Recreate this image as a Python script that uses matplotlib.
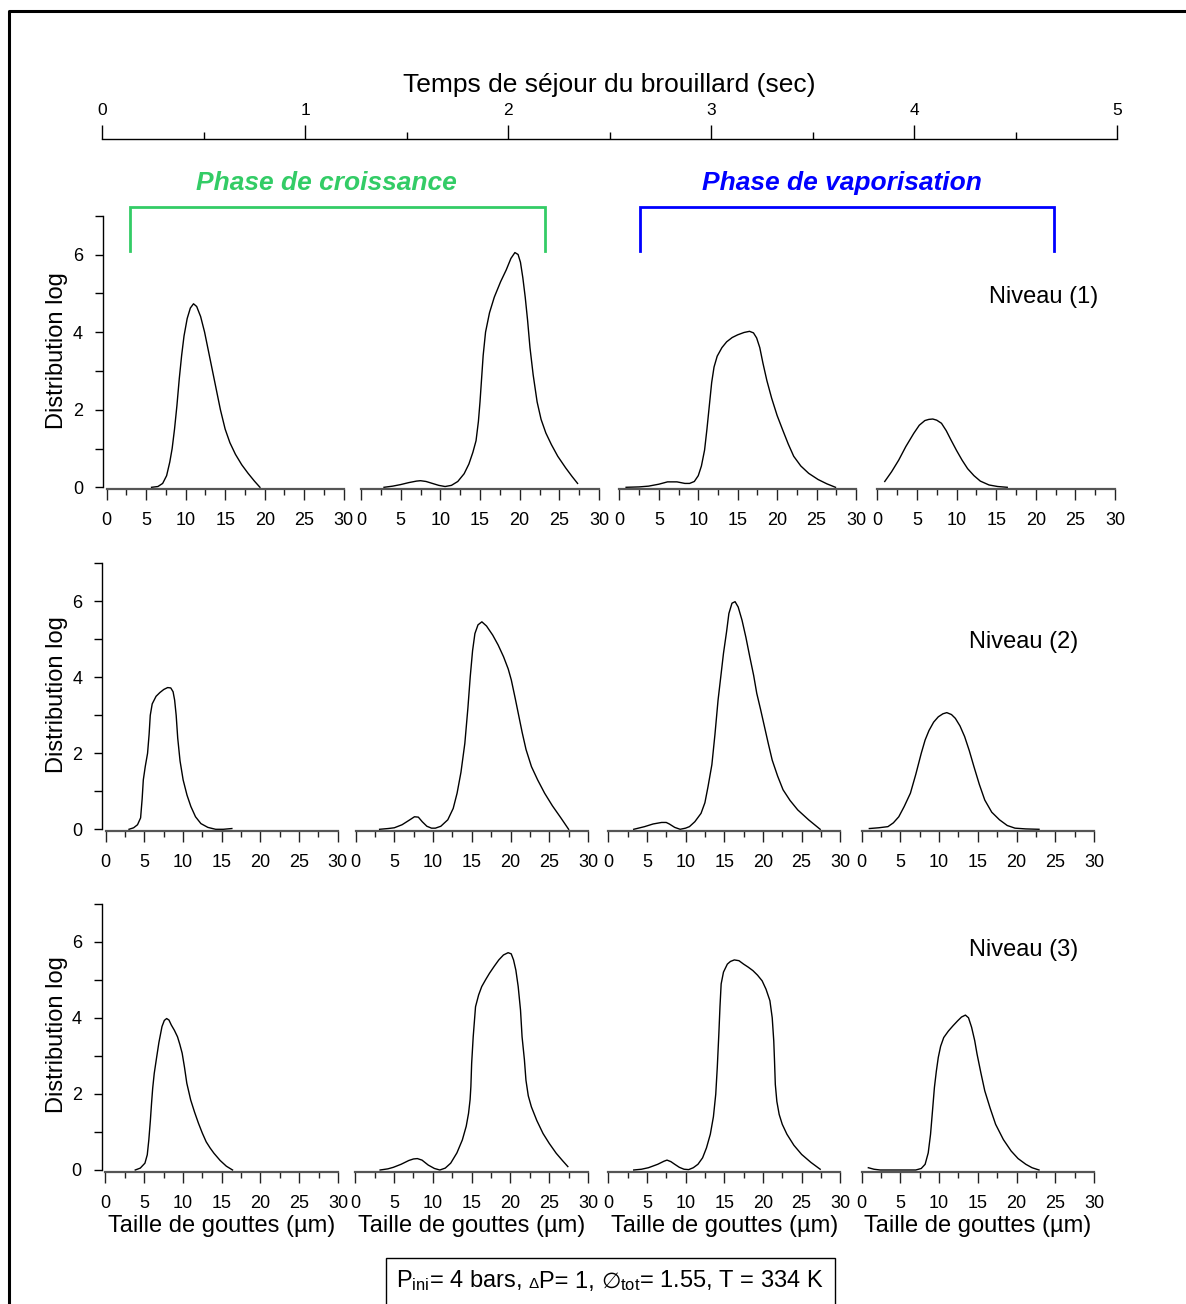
import matplotlib
matplotlib.use('Agg')
import matplotlib.pyplot as plt
from matplotlib.lines import Line2D
from matplotlib.patches import Rectangle
import matplotlib.transforms as mtransforms
from matplotlib.ticker import MultipleLocator, FixedLocator
from matplotlib.offsetbox import TextArea, HPacker, AnchoredOffsetbox, DrawingArea

plt.rcParams['font.family'] = ['Liberation Sans', 'DejaVu Sans']
plt.rcParams['mathtext.fontset'] = 'custom'
plt.rcParams['mathtext.rm'] = 'Liberation Sans'
plt.rcParams['mathtext.it'] = 'Liberation Sans:italic'
plt.rcParams['mathtext.bf'] = 'Liberation Sans:bold'

# ---------------- data ----------------
time_ticks = [0, 1, 2, 3, 4, 5]
size_ticks = [0, 5, 10, 15, 20, 25, 30]
dist_ticks = [0, 2, 4, 6]
phase_names = ["Phase de croissance", "Phase de vaporisation"]
phase_colors = ["#33cc66", "#0000ff"]
phase_t0 = [0.14, 2.65]
phase_t1 = [2.18, 4.69]
level_names = ["Niveau (1)", "Niveau (2)", "Niveau (3)"]

# Niveau 1
n1_t1_x = [5.7, 6.5, 7.1, 7.6, 8.0, 8.3, 8.6, 8.9, 9.2, 9.5, 9.8, 10.2, 10.6, 11.0, 11.4, 11.9, 12.4, 12.9, 13.4, 13.9, 14.4, 15.0, 15.6, 16.3, 17.1, 17.9, 18.7, 19.4]
n1_t1_y = [0.0, 0.02, 0.1, 0.3, 0.65, 1.0, 1.5, 2.1, 2.8, 3.4, 3.9, 4.35, 4.62, 4.73, 4.66, 4.4, 4.0, 3.5, 3.0, 2.5, 2.0, 1.5, 1.15, 0.85, 0.58, 0.36, 0.16, 0.0]
n1_t2_x = [2.9, 4.0, 5.0, 6.0, 7.0, 7.5, 8.2, 9.0, 9.8, 10.6, 11.4, 12.2, 13.0, 13.6, 14.1, 14.5, 14.8, 15.0, 15.2, 15.4, 15.7, 16.2, 16.8, 17.6, 18.3, 18.9, 19.4, 19.8, 20.1, 20.4, 20.7, 21.0, 21.3, 21.7, 22.2, 22.7, 23.3, 24.0, 24.8, 25.8, 26.6, 27.3]
n1_t2_y = [0.0, 0.03, 0.07, 0.12, 0.16, 0.17, 0.15, 0.1, 0.05, 0.02, 0.05, 0.15, 0.35, 0.6, 0.9, 1.2, 1.7, 2.2, 2.8, 3.4, 4.0, 4.5, 4.9, 5.3, 5.6, 5.9, 6.05, 6.0, 5.8, 5.4, 4.9, 4.3, 3.6, 2.9, 2.2, 1.75, 1.4, 1.1, 0.8, 0.5, 0.28, 0.1]
n1_t3_x = [0.85, 2.5, 3.7, 5.0, 6.1, 7.3, 8.3, 8.9, 9.5, 10.0, 10.4, 10.8, 11.1, 11.4, 11.7, 12.0, 12.4, 13.0, 13.6, 14.3, 15.0, 15.8, 16.5, 17.0, 17.4, 17.8, 18.2, 18.7, 19.3, 20.0, 20.7, 21.4, 22.1, 23.0, 24.0, 25.2, 26.3, 27.4]
n1_t3_y = [0.0, 0.01, 0.03, 0.08, 0.14, 0.14, 0.1, 0.1, 0.15, 0.3, 0.55, 0.96, 1.5, 2.1, 2.7, 3.1, 3.38, 3.6, 3.75, 3.86, 3.93, 3.99, 4.02, 3.98, 3.85, 3.6, 3.2, 2.75, 2.3, 1.85, 1.48, 1.12, 0.8, 0.55, 0.36, 0.2, 0.09, 0.0]
n1_t4_x = [0.94, 1.8, 2.7, 3.6, 4.6, 5.3, 6.0, 6.5, 7.0, 7.5, 8.1, 8.7, 9.3, 10.0, 10.7, 11.4, 12.2, 13.0, 14.1, 15.2, 16.4]
n1_t4_y = [0.15, 0.4, 0.7, 1.05, 1.39, 1.6, 1.72, 1.75, 1.76, 1.73, 1.65, 1.46, 1.22, 0.95, 0.7, 0.48, 0.3, 0.16, 0.06, 0.02, 0.0]

# Niveau 2
n2_t1_x = [3.0, 3.6, 4.1, 4.5, 4.7, 4.85, 5.1, 5.4, 5.6, 5.75, 6.0, 6.5, 7.0, 7.5, 8.0, 8.4, 8.7, 8.9, 9.1, 9.3, 9.6, 10.0, 10.5, 11.0, 11.6, 12.3, 13.2, 14.2, 15.2, 16.3]
n2_t1_y = [0.0, 0.04, 0.12, 0.3, 0.8, 1.3, 1.65, 2.0, 2.5, 3.0, 3.3, 3.5, 3.6, 3.68, 3.73, 3.72, 3.62, 3.4, 3.0, 2.4, 1.8, 1.3, 0.9, 0.6, 0.33, 0.15, 0.05, 0.0, 0.0, 0.02]
n2_t2_x = [3.1, 4.2, 5.0, 6.0, 7.0, 7.6, 8.1, 8.6, 9.2, 9.8, 10.3, 11.0, 11.9, 12.6, 13.1, 13.6, 14.1, 14.5, 14.8, 15.1, 15.4, 15.8, 16.3, 16.9, 17.7, 18.4, 19.1, 19.7, 20.1, 20.6, 21.1, 21.5, 22.0, 22.7, 23.5, 24.4, 25.4, 26.5, 27.5]
n2_t2_y = [0.0, 0.02, 0.04, 0.12, 0.25, 0.33, 0.32, 0.2, 0.08, 0.03, 0.03, 0.08, 0.25, 0.55, 0.95, 1.5, 2.26, 3.2, 4.02, 4.7, 5.15, 5.38, 5.46, 5.35, 5.11, 4.85, 4.54, 4.22, 3.93, 3.45, 2.95, 2.55, 2.1, 1.65, 1.3, 0.95, 0.62, 0.3, 0.0]
n2_t3_x = [3.3, 4.7, 5.8, 6.9, 7.5, 7.9, 8.6, 9.3, 10.0, 10.5, 11.2, 12.0, 12.5, 12.9, 13.4, 13.8, 14.2, 14.6, 14.9, 15.3, 15.6, 16.0, 16.4, 16.8, 17.3, 17.8, 18.3, 18.8, 19.2, 19.7, 20.2, 20.7, 21.2, 21.9, 22.6, 23.5, 24.5, 25.9, 27.4]
n2_t3_y = [0.0, 0.07, 0.14, 0.18, 0.18, 0.14, 0.05, 0.0, 0.03, 0.07, 0.2, 0.42, 0.7, 1.12, 1.7, 2.5, 3.4, 4.1, 4.63, 5.2, 5.68, 5.95, 5.99, 5.85, 5.5, 5.05, 4.54, 4.05, 3.58, 3.15, 2.7, 2.25, 1.82, 1.4, 1.04, 0.76, 0.51, 0.25, 0.0]
n2_t4_x = [1.0, 2.2, 3.4, 4.1, 4.8, 5.5, 6.3, 7.0, 7.7, 8.2, 8.7, 9.3, 9.9, 10.5, 11.0, 11.6, 12.1, 12.7, 13.3, 13.9, 14.5, 15.2, 15.9, 16.8, 17.8, 18.8, 19.8, 21.2, 22.9]
n2_t4_y = [0.02, 0.04, 0.07, 0.17, 0.33, 0.6, 0.95, 1.45, 2.0, 2.35, 2.6, 2.82, 2.96, 3.04, 3.07, 3.02, 2.92, 2.72, 2.44, 2.07, 1.65, 1.18, 0.77, 0.45, 0.25, 0.1, 0.03, 0.01, 0.0]

# Niveau 3
n3_t1_x = [3.85, 4.5, 5.1, 5.4, 5.6, 5.8, 5.95, 6.1, 6.3, 6.6, 6.9, 7.3, 7.6, 7.9, 8.2, 8.5, 8.9, 9.3, 9.6, 9.9, 10.2, 10.5, 11.0, 11.5, 12.0, 12.5, 13.0, 13.5, 14.0, 14.8, 15.6, 16.4]
n3_t1_y = [0.0, 0.05, 0.18, 0.4, 0.79, 1.3, 1.75, 2.15, 2.54, 2.95, 3.35, 3.77, 3.93, 3.98, 3.94, 3.81, 3.67, 3.5, 3.3, 3.07, 2.7, 2.28, 1.84, 1.52, 1.23, 0.97, 0.74, 0.58, 0.44, 0.25, 0.1, 0.0]
n3_t2_x = [3.2, 4.2, 4.9, 5.9, 6.9, 7.5, 8.0, 8.6, 9.4, 10.2, 10.9, 11.6, 12.3, 13.1, 13.8, 14.3, 14.6, 14.8, 14.9, 15.0, 15.2, 15.5, 15.9, 16.3, 16.8, 17.3, 17.9, 18.5, 19.1, 19.7, 20.1, 20.4, 20.7, 21.0, 21.3, 21.5, 21.8, 22.0, 22.3, 22.7, 23.4, 24.2, 25.0, 25.9, 26.7, 27.4]
n3_t2_y = [0.0, 0.03, 0.07, 0.15, 0.25, 0.29, 0.3, 0.26, 0.13, 0.04, 0.0, 0.05, 0.18, 0.45, 0.79, 1.15, 1.49, 1.85, 2.19, 2.8, 3.5, 4.29, 4.6, 4.82, 5.0, 5.17, 5.35, 5.52, 5.65, 5.71, 5.68, 5.52, 5.25, 4.82, 4.2, 3.5, 2.9, 2.36, 1.95, 1.66, 1.3, 0.96, 0.7, 0.44, 0.25, 0.09]
n3_t3_x = [3.3, 4.3, 5.2, 6.4, 7.2, 7.6, 8.1, 8.6, 9.2, 9.8, 10.4, 11.0, 11.6, 12.2, 12.7, 13.2, 13.6, 13.9, 14.1, 14.3, 14.45, 14.6, 14.9, 15.4, 15.8, 16.3, 16.9, 17.5, 18.1, 18.7, 19.3, 19.9, 20.4, 20.9, 21.2, 21.4, 21.5, 21.6, 21.8, 22.1, 22.5, 23.1, 24.0, 25.0, 26.2, 27.4]
n3_t3_y = [0.0, 0.02, 0.06, 0.15, 0.23, 0.26, 0.22, 0.15, 0.07, 0.02, 0.01, 0.06, 0.15, 0.32, 0.58, 0.94, 1.4, 1.99, 2.7, 3.57, 4.3, 4.89, 5.2, 5.41, 5.48, 5.52, 5.5, 5.41, 5.33, 5.24, 5.12, 4.97, 4.75, 4.45, 4.0, 3.39, 2.85, 2.25, 1.8, 1.46, 1.2, 0.94, 0.65, 0.41, 0.2, 0.02]
n3_t4_x = [0.87, 1.6, 2.4, 4.0, 5.5, 7.0, 7.7, 8.2, 8.6, 8.9, 9.15, 9.4, 9.65, 9.9, 10.2, 10.6, 11.2, 11.8, 12.4, 12.9, 13.4, 13.8, 14.2, 14.6, 14.9, 15.4, 15.9, 16.6, 17.3, 18.3, 19.3, 20.2, 21.2, 22.0, 22.9]
n3_t4_y = [0.06, 0.02, 0.0, 0.0, 0.0, 0.0, 0.04, 0.15, 0.45, 0.94, 1.55, 2.17, 2.6, 2.96, 3.25, 3.48, 3.65, 3.79, 3.92, 4.02, 4.07, 4.0, 3.75, 3.4, 3.05, 2.55, 2.08, 1.62, 1.2, 0.8, 0.5, 0.3, 0.15, 0.06, 0.0]

curves = [
    [(n1_t1_x, n1_t1_y), (n1_t2_x, n1_t2_y), (n1_t3_x, n1_t3_y), (n1_t4_x, n1_t4_y)],
    [(n2_t1_x, n2_t1_y), (n2_t2_x, n2_t2_y), (n2_t3_x, n2_t3_y), (n2_t4_x, n2_t4_y)],
    [(n3_t1_x, n3_t1_y), (n3_t2_x, n3_t2_y), (n3_t3_x, n3_t3_y), (n3_t4_x, n3_t4_y)],
]

# ---------------- layout ----------------
W, H = 1186, 1304
fig = plt.figure(figsize=(W / 100, H / 100), dpi=100)


def fx(px):
    return px / W


def fy(py):
    return 1 - py / H


rows_px = [(215.7, 487.3), (563.3, 829.3), (903.6, 1170.0)]
cols_px = [[(106.5, 343.8), (361, 599), (619.4, 856), (877.3, 1115)],
           [(105.8, 337.8), (355.6, 588), (608.2, 840.3), (861.6, 1094)],
           [(105.4, 338), (355.3, 588), (608.2, 840.3), (861.6, 1094)]]
ylabel_y = [351, 695, 1035]
level_pos = [(1044, 297), (1024, 642), (1024, 950)]

for r in range(3):
    ytop, ybot = rows_px[r]
    for c in range(4):
        x0, x1 = cols_px[r][c]
        ax = fig.add_axes([fx(x0), fy(ybot), (x1 - x0) / W, (ybot - ytop) / H])
        ax.patch.set_visible(False)
        xs, ys = curves[r][c]
        ax.plot(xs, ys, color='black', lw=1.0, solid_joinstyle='round', clip_on=False)
        ax.set_xlim(0, 30)
        ax.set_ylim(0, 7)
        ax.spines['top'].set_visible(False)
        ax.spines['right'].set_visible(False)
        ax.spines['bottom'].set_position(('outward', 1.5))
        ax.spines['bottom'].set_color('#555555')
        ax.spines['bottom'].set_linewidth(1.6)
        ax.set_xticks(size_ticks)
        ax.xaxis.set_minor_locator(MultipleLocator(2.5))
        ax.tick_params(axis='x', which='major', length=8, width=1.0, direction='out',
                       pad=8.5, labelsize=13, color='#222222')
        ax.tick_params(axis='x', which='minor', length=4.3, width=1.0, direction='out',
                       color='#222222')
        if c == 0:
            ax.spines['left'].set_position(('outward', 2.5))
            ax.spines['left'].set_linewidth(1.0)
            ax.set_yticks(dist_ticks)
            ax.yaxis.set_minor_locator(FixedLocator([1, 3, 5, 7]))
            ax.tick_params(axis='y', which='both', length=5.5, width=1.0,
                           direction='out', pad=9, labelsize=13)
        else:
            ax.spines['left'].set_visible(False)
            ax.tick_params(axis='y', which='both', left=False, labelleft=False)
        if r == 2:
            fig.text(fx((x0 + x1) / 2), fy(1226), "Taille de gouttes (µm)",
                     ha='center', va='center', fontsize=17)
    fig.text(fx(57), fy(ylabel_y[r]), "Distribution log", rotation=90,
             ha='center', va='center', fontsize=17)
    fig.text(fx(level_pos[r][0]), fy(level_pos[r][1]), level_names[r],
             ha='center', va='center', fontsize=17)

# top time axis
ax_top = fig.add_axes([fx(102), fy(141), (1117 - 102) / W, 2 / H])
ax_top.patch.set_visible(False)
for s in ['bottom', 'left', 'right']:
    ax_top.spines[s].set_visible(False)
ax_top.spines['top'].set_linewidth(1.0)
ax_top.set_xlim(0, 5)
ax_top.xaxis.tick_top()
ax_top.set_xticks(time_ticks)
ax_top.xaxis.set_minor_locator(MultipleLocator(0.5))
ax_top.tick_params(axis='x', which='major', length=10, width=1.0, direction='out',
                   pad=5, labelsize=12.5)
ax_top.tick_params(axis='x', which='minor', length=5, width=1.0, direction='out')
ax_top.tick_params(axis='y', which='both', left=False, labelleft=False)
fig.text(fx(609.5), fy(85), "Temps de séjour du brouillard (sec)",
         ha='center', va='center', fontsize=19)

# phase brackets
trans = mtransforms.blended_transform_factory(ax_top.transData, fig.transFigure)
phase_text_x = [326, 842]
for i in range(2):
    t0, t1 = phase_t0[i], phase_t1[i]
    fig.add_artist(Line2D([t0, t0, t1, t1], [fy(251), fy(207.3), fy(207.3), fy(251)],
                          transform=trans, color=phase_colors[i], lw=2.0,
                          solid_joinstyle='miter'))
    fig.text(fx(phase_text_x[i]), fy(183), phase_names[i], color=phase_colors[i],
             ha='center', va='center', fontsize=19, fontweight='bold', fontstyle='italic')

# figure frame (left and top)
fig.add_artist(Line2D([fx(8.5), fx(8.5), 1.0], [0, fy(11.3), fy(11.3)],
                      transform=fig.transFigure, color='black', lw=2.2))

# parameter box
fig.add_artist(Rectangle((fx(386), -0.02), (835 - 386) / W, (1304 - 1258) / H + 0.02,
                         transform=fig.transFigure, facecolor='white',
                         edgecolor='black', lw=1.0))
space_w = 0.278 * 17
parts = [
    TextArea(r"P$_{\mathrm{ini}}$= 4 bars,", textprops=dict(fontsize=17)),
    DrawingArea(space_w, 1),
    TextArea("Δ", textprops=dict(fontsize=11)),
    TextArea(r"P= 1,", textprops=dict(fontsize=17)),
    DrawingArea(space_w, 1),
    TextArea("∅", textprops=dict(fontsize=16, family='DejaVu Sans')),
    TextArea(r"$_{\mathrm{tot}}$= 1.55, T = 334 K", textprops=dict(fontsize=17)),
]
packer = HPacker(children=parts, align='baseline', pad=0, sep=0)
anch = AnchoredOffsetbox(loc='center', child=packer, pad=0, borderpad=0, frameon=False,
                         bbox_to_anchor=(fx(610), fy(1281)),
                         bbox_transform=fig.transFigure)
fig.add_artist(anch)

fig.savefig('out.png', dpi=100)
